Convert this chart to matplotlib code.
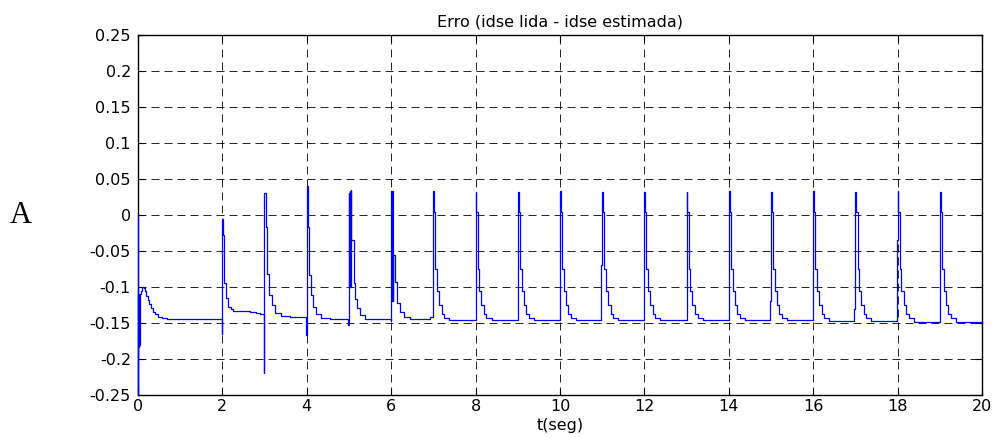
import numpy as np
import matplotlib
matplotlib.use("Agg")
import matplotlib.pyplot as plt
from matplotlib.ticker import FuncFormatter, MultipleLocator

plt.rcParams['axes.unicode_minus'] = False
plt.rcParams['font.family'] = ['DejaVu Sans']

# ---- data ----
# initial transient and first irregular pulses (t < 7 s), step-held values
early_t = [0.0, 0.0, 0.006, 0.012, 0.02, 0.028, 0.036, 0.05, 0.07, 0.10, 0.14, 0.17, 0.20,
           0.23, 0.26, 0.30, 0.35, 0.40, 0.48, 0.58, 0.70, 0.85,
           1.995, 2.0, 2.025, 2.045, 2.09, 2.14, 2.20, 2.26, 2.65, 2.80, 2.90,
           2.995, 3.0, 3.03, 3.06, 3.11, 3.17, 3.24, 3.40, 3.60, 3.80,
           3.985, 3.995, 4.0, 4.03, 4.06, 4.10, 4.15, 4.22, 4.35, 4.55,
           4.99, 5.0, 5.01, 5.02, 5.035, 5.045, 5.06, 5.11, 5.15, 5.20, 5.27, 5.37,
           5.995, 6.0, 6.015, 6.025, 6.04, 6.05, 6.10, 6.14, 6.20, 6.30, 6.45, 6.93]
early_y = [0.0, -0.25, -0.183, -0.11, -0.183, -0.11, -0.18, -0.11, -0.105, -0.100, -0.101, -0.106, -0.112,
           -0.118, -0.124, -0.129, -0.134, -0.138, -0.141, -0.143, -0.144, -0.145,
           -0.165, -0.006, -0.028, -0.094, -0.115, -0.127, -0.131, -0.133, -0.135, -0.136, -0.137,
           -0.219, 0.030, -0.016, -0.082, -0.111, -0.125, -0.136, -0.140, -0.141, -0.142,
           -0.146, -0.167, 0.041, -0.016, -0.083, -0.111, -0.128, -0.137, -0.143, -0.145,
           -0.152, 0.030, -0.100, 0.033, -0.100, 0.035, -0.034, -0.095, -0.116, -0.129, -0.139, -0.145,
           -0.147, 0.033, -0.120, 0.034, -0.120, -0.056, -0.093, -0.122, -0.134, -0.142, -0.145, -0.141]

# regular pulses from 7 s onwards
pulse_t = [7, 8, 9, 10, 11, 12, 13, 14, 15, 16, 17, 18, 19]
pulse_peak = [0.033, 0.032, 0.032, 0.033, 0.032, 0.032, 0.032, 0.033, 0.032, 0.033, 0.032, 0.033, 0.032]
pulse_pre = [np.nan, np.nan, np.nan, np.nan, -0.070, np.nan, np.nan, np.nan, -0.120, np.nan, -0.130, -0.035, np.nan]
pulse_base = [-0.146, -0.146, -0.146, -0.146, -0.146, -0.146, -0.146, -0.146, -0.146, -0.147, -0.147, -0.148, -0.149]
# decay staircase after each regular pulse (offset in s, level)
decay_dt = [0.02, 0.05, 0.09, 0.14, 0.20, 0.26, 0.38]
decay_y = [0.004, -0.075, -0.105, -0.125, -0.137, -0.143]

# ---- assemble step signal ----
ts = list(early_t)
ys = list(early_y)
for T, P, pre, B in zip(pulse_t, pulse_peak, pulse_pre, pulse_base):
    if not np.isnan(pre):
        ts.append(T - 0.025); ys.append(pre)
    ts.append(T); ys.append(P)
    for dt, yv in zip(decay_dt[:-1], decay_y):
        ts.append(T + dt); ys.append(yv)
    ts.append(T + decay_dt[-1]); ys.append(B)
ts.append(20.0); ys.append(pulse_base[-1])

fig = plt.figure(figsize=(9.99, 4.38), dpi=100)
ax = fig.add_axes([0.138, 0.098, 0.845, 0.822])
ax.plot(ts, ys, color=(0, 0, 1), lw=0.9, drawstyle='steps-post', zorder=3, clip_on=False)

ax.set_xlim(0, 20)
ax.set_ylim(-0.25, 0.25)
ax.xaxis.set_major_locator(MultipleLocator(2))
ax.yaxis.set_major_locator(MultipleLocator(0.05))
fmt = FuncFormatter(lambda v, p: '%g' % round(v, 4))
ax.xaxis.set_major_formatter(fmt)
ax.yaxis.set_major_formatter(fmt)
ax.tick_params(direction='in', length=5, width=0.8, top=True, right=True,
               labelsize=11.5, pad=5)
ax.tick_params(axis='x', pad=3)
ax.grid(True, color='black', lw=0.6, linestyle=(0, (9.6, 6.0)))
for s in ax.spines.values():
    s.set_linewidth(1.0)

ax.set_title('Erro (idse lida - idse estimada)', fontsize=11.5, pad=6)
ax.set_xlabel('t(seg)', fontsize=11.5, labelpad=3)
fig.text(0.021, 0.508, 'A', fontsize=22, family=['Liberation Serif', 'DejaVu Serif'],
         ha='center', va='center')

fig.savefig('out.png', dpi=100)
